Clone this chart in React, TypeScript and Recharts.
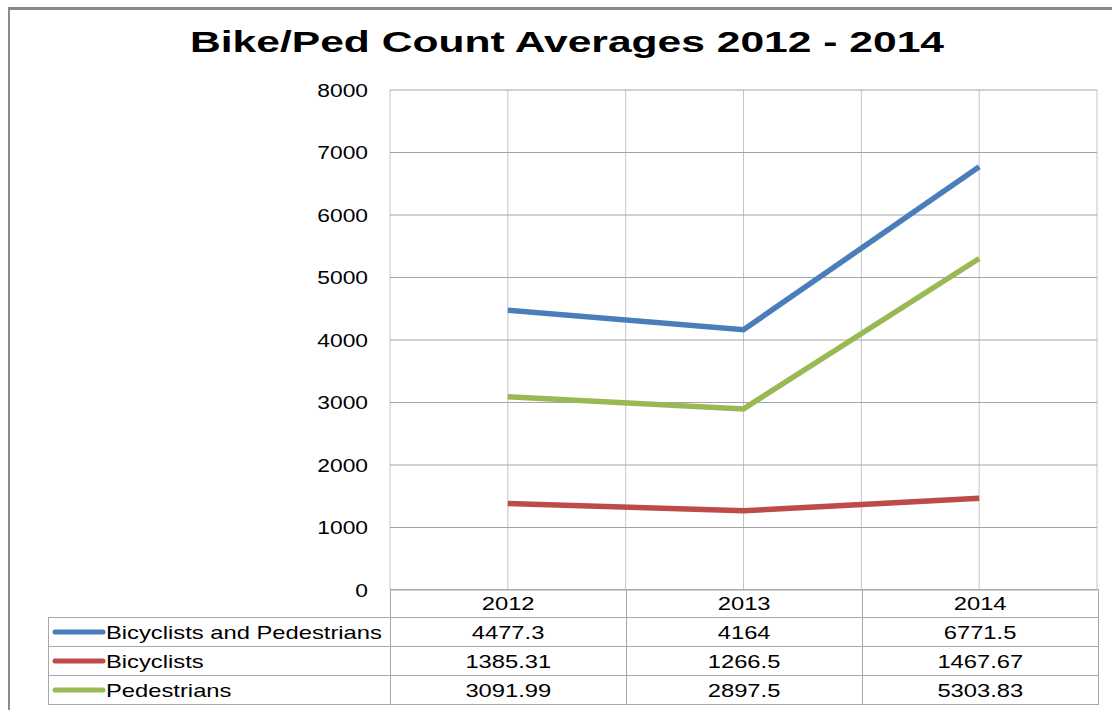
import React from "react";
import {
  LineChart,
  Line,
  XAxis,
  YAxis,
  CartesianGrid,
} from "recharts";

const years = ["2012", "2013", "2014"];
const bikePed = [4477.3, 4164, 6771.5];
const bicyclists = [1385.31, 1266.5, 1467.67];
const pedestrians = [3091.99, 2897.5, 5303.83];
const yTicks = [0, 1000, 2000, 3000, 4000, 5000, 6000, 7000, 8000];

const seriesList = [
  { key: "bikePed", name: "Bicyclists and Pedestrians", values: bikePed, color: "#4A7EBB" },
  { key: "bicyclists", name: "Bicyclists", values: bicyclists, color: "#BE4B48" },
  { key: "pedestrians", name: "Pedestrians", values: pedestrians, color: "#98B954" },
];

const data = years.map((year, i) => ({
  year,
  bikePed: bikePed[i],
  bicyclists: bicyclists[i],
  pedestrians: pedestrians[i],
}));

const font = "'Liberation Sans', Arial, sans-serif";
const stretch = 1.2; // the source picture is a bit wider than tall
const tableStretch = 1.25;
const cellBorder = "1px solid #a8a8a8";

// y tick text, widened like the source
const YTick = (props: any) => {
  const { x, y, payload } = props;
  return (
    <g transform={`translate(${x},${y}) scale(${stretch},1)`}>
      <text x={0} y={0} dy="0.36em" textAnchor="end" fill="#000" fontSize={19} fontFamily={font}>
        {payload.value}
      </text>
    </g>
  );
};

const Wide = ({ children, origin }: { children: React.ReactNode; origin: string }) => (
  <span
    style={{
      display: "inline-block",
      transform: `scaleX(${tableStretch})`,
      transformOrigin: origin,
    }}
  >
    {children}
  </span>
);

// vertical lines on category edges and centres
const verticalGen = ({ offset }: any) => {
  const pts: number[] = [];
  for (let i = 0; i <= years.length * 2; i++) {
    pts.push(offset.left + (offset.width * i) / (years.length * 2));
  }
  return pts;
};

const App: React.FC = () => {
  return (
    <div
      style={{
        position: "absolute",
        left: 0,
        top: 0,
        width: 1112,
        height: 710,
        background: "#fff",
        overflow: "hidden",
        fontFamily: font,
      }}
    >
      {/* chart frame, runs off the right and bottom edge */}
      <div
        style={{
          position: "absolute",
          left: 8,
          top: 7,
          width: 1300,
          height: 900,
          borderLeft: "2px solid #8a8a8a",
          borderTop: "3px solid #8a8a8a",
        }}
      />

      <svg width={1112} height={80} style={{ position: "absolute", left: 0, top: 0 }}>
        <text
          x={567}
          y={52}
          textAnchor="middle"
          textLength={754}
          lengthAdjust="spacingAndGlyphs"
          style={{ fontFamily: font, fontWeight: 700, fontSize: 29 }}
          fill="#000"
        >
          Bike/Ped Count Averages 2012 - 2014
        </text>
      </svg>

      <div style={{ position: "absolute", left: 0, top: 0 }}>
        <LineChart
          width={1112}
          height={710}
          data={data}
          margin={{ top: 90, right: 15, bottom: 120, left: 0 }}
        >
          <CartesianGrid
            horizontal={false}
            verticalCoordinatesGenerator={verticalGen}
            stroke="#c4c4c4"
            strokeOpacity={1}
          />
          <CartesianGrid vertical={false} stroke="#a4a4a4" strokeOpacity={1} />
          <XAxis dataKey="year" padding={{ left: 117.8, right: 117.8 }} hide />
          <YAxis
            width={390}
            domain={[0, 8000]}
            ticks={yTicks}
            axisLine={false}
            tickLine={false}
            tickSize={0}
            tickMargin={22}
            tick={<YTick />}
          />
          {seriesList.map((s) => (
            <Line
              key={s.key}
              dataKey={s.key}
              name={s.name}
              type="linear"
              stroke={s.color}
              strokeWidth={5.5}
              dot={false}
              isAnimationActive={false}
            />
          ))}
        </LineChart>
      </div>

      <table
        style={{
          position: "absolute",
          left: 48,
          top: 589,
          width: 1050,
          borderCollapse: "collapse",
          tableLayout: "fixed",
          fontSize: 19,
          fontFamily: font,
          color: "#000",
        }}
      >
        <colgroup>
          <col style={{ width: 342 }} />
          <col style={{ width: 236 }} />
          <col style={{ width: 236 }} />
          <col style={{ width: 236 }} />
        </colgroup>
        <tbody>
          <tr style={{ height: 28 }}>
            <td style={{ padding: 0 }} />
            {years.map((y) => (
              <td
                key={y}
                style={{ border: cellBorder, textAlign: "center", padding: 0, lineHeight: "26px" }}
              >
                <Wide origin="center">{y}</Wide>
              </td>
            ))}
          </tr>
          {seriesList.map((s) => (
            <tr key={s.key} style={{ height: 29 }}>
              <td style={{ border: cellBorder, padding: 0, lineHeight: "27px", whiteSpace: "nowrap" }}>
                <svg width={57} height={12} style={{ verticalAlign: "middle", marginTop: -3 }}>
                  <line x1={6} y1={6} x2={54} y2={6} stroke={s.color} strokeWidth={5} strokeLinecap="round" />
                </svg>
                <Wide origin="left">{s.name}</Wide>
              </td>
              {s.values.map((v, i) => (
                <td
                  key={i}
                  style={{ border: cellBorder, textAlign: "center", padding: 0, lineHeight: "27px" }}
                >
                  <Wide origin="center">{v}</Wide>
                </td>
              ))}
            </tr>
          ))}
        </tbody>
      </table>
    </div>
  );
};

export default App;
